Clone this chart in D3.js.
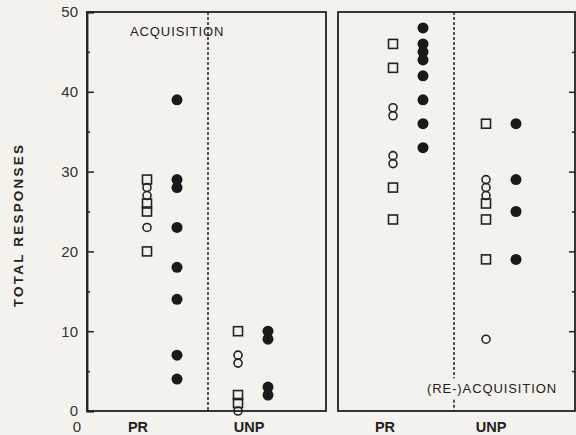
<!DOCTYPE html>
<html>
<head>
<meta charset="utf-8">
<script src="https://cdn.jsdelivr.net/npm/d3@7"></script>
<style>
  body { margin: 0; background: #f4f2ed; }
  svg { display: block; font-family: "Liberation Sans", Arial, sans-serif; }
</style>
</head>
<body>
<svg width="576" height="435"></svg>
<script>
// values (total responses per subject)
const groups = ["PR", "UNP"];
const yTicks = [0, 10, 20, 30, 40, 50];
const yMinorTicks = [5, 15, 25, 35, 45];

// acquisition panel
const acqPrSquares = [29, 26, 25, 20];
const acqPrCircles = [28, 27, 23];
const acqPrFilled = [39, 29, 28, 23, 18, 14, 7, 4];
const acqUnpSquares = [10, 2, 1];
const acqUnpCircles = [7, 6, 0];
const acqUnpFilled = [10, 9, 3, 2];

// (re-)acquisition panel
const reaPrSquares = [46, 43, 28, 24];
const reaPrCircles = [38, 37, 32, 31];
const reaPrFilled = [48, 46, 45, 44, 42, 39, 36, 33];
const reaUnpSquares = [36, 26, 24, 19];
const reaUnpCircles = [29, 28, 27, 9];
const reaUnpFilled = [36, 29, 25, 19];

const ink = "#222";
const svg = d3.select("svg");

const y = d3.scaleLinear().domain([0, 50]).range([411, 12]);

const panels = [
  { x0: 87, x1: 326, dash: 208, centers: [162, 253], labels: [138, 249],
    title: "ACQUISITION", titleX: 130, titleY: 36, anchor: "start",
    sets: { PR: [acqPrSquares, acqPrCircles, acqPrFilled], UNP: [acqUnpSquares, acqUnpCircles, acqUnpFilled] } },
  { x0: 338, x1: 575, dash: 454, centers: [408, 501], labels: [385, 491],
    title: "(RE-)ACQUISITION", titleX: 557, titleY: 393, anchor: "end",
    sets: { PR: [reaPrSquares, reaPrCircles, reaPrFilled], UNP: [reaUnpSquares, reaUnpCircles, reaUnpFilled] } }
];

panels.forEach((p, i) => {
  const g = svg.append("g");

  // frame
  g.append("rect")
    .attr("x", p.x0).attr("y", y(50))
    .attr("width", p.x1 - p.x0).attr("height", y(0) - y(50))
    .attr("fill", "none").attr("stroke", ink).attr("stroke-width", 1.8);

  // dotted divider, broken under the bottom label on the right panel
  const dashSegs = i === 0 ? [[50, 0]] : [[50, 4.1], [1.4, 0]];
  dashSegs.forEach(s => {
    g.append("line")
      .attr("x1", p.dash).attr("x2", p.dash)
      .attr("y1", y(s[0])).attr("y2", y(s[1]))
      .attr("stroke", ink).attr("stroke-width", 1.5)
      .attr("stroke-dasharray", "3,2");
  });

  const x = d3.scaleOrdinal().domain(groups).range(p.centers);
  const off = 15;

  groups.forEach(k => {
    const [sq, ci, fi] = p.sets[k];
    g.selectAll(null).data(sq).enter().append("rect")
      .attr("x", d => x(k) - off - 4.5).attr("y", d => y(d) - 4.5)
      .attr("width", 9).attr("height", 9)
      .attr("fill", "none").attr("stroke", ink).attr("stroke-width", 1.6);
    g.selectAll(null).data(ci).enter().append("circle")
      .attr("cx", x(k) - off).attr("cy", d => y(d)).attr("r", 4)
      .attr("fill", "none").attr("stroke", ink).attr("stroke-width", 1.6);
    g.selectAll(null).data(fi).enter().append("circle")
      .attr("cx", x(k) + off).attr("cy", d => y(d)).attr("r", 5.5)
      .attr("fill", "#1a1a1a");
  });

  // category labels under the panel
  groups.forEach((k, j) => {
    svg.append("text")
      .attr("x", p.labels[j]).attr("y", 432)
      .attr("text-anchor", "middle")
      .attr("font-size", 14.5).attr("font-weight", "bold")
      .attr("fill", ink).text(k);
  });

  svg.append("text")
    .attr("x", p.titleX).attr("y", p.titleY)
    .attr("text-anchor", p.anchor)
    .attr("font-size", 13).attr("letter-spacing", 0.9)
    .attr("fill", ink).text(p.title);
});

// left axis, ticks point inward
const axL = svg.append("g").attr("transform", "translate(87,0)")
  .call(d3.axisLeft(y).tickValues(yTicks).tickSize(-7).tickPadding(9));
axL.select(".domain").attr("stroke", ink).attr("stroke-width", 1.8);
axL.selectAll(".tick line").attr("stroke", ink).attr("stroke-width", 1.5);
axL.selectAll("text").attr("font-size", 15).attr("fill", "#333")
  .attr("font-family", "'Liberation Sans', Arial, sans-serif");

const axLm = svg.append("g").attr("transform", "translate(87,0)")
  .call(d3.axisLeft(y).tickValues(yMinorTicks).tickSize(-3).tickFormat(""));
axLm.select(".domain").remove();
axLm.selectAll(".tick line").attr("stroke", ink).attr("stroke-width", 1.5);

// right edge of right panel, ticks point inward, no labels
const axR = svg.append("g").attr("transform", "translate(575,0)")
  .call(d3.axisRight(y).tickValues(yTicks.slice(1, -1)).tickSize(-6).tickFormat(""));
axR.select(".domain").remove();
axR.selectAll(".tick line").attr("stroke", ink).attr("stroke-width", 1.5);

const axRm = svg.append("g").attr("transform", "translate(575,0)")
  .call(d3.axisRight(y).tickValues(yMinorTicks).tickSize(-3).tickFormat(""));
axRm.select(".domain").remove();
axRm.selectAll(".tick line").attr("stroke", ink).attr("stroke-width", 1.5);

// stray origin label below the axis
svg.append("text")
  .attr("x", 77).attr("y", 432).attr("text-anchor", "middle")
  .attr("font-size", 15).attr("fill", "#333").text("0");

// y title
svg.append("text")
  .attr("transform", "translate(23,225) rotate(-90)")
  .attr("text-anchor", "middle")
  .attr("font-size", 13.5).attr("font-weight", "bold")
  .attr("letter-spacing", 2.2)
  .attr("fill", ink).text("TOTAL RESPONSES");
</script>
</body>
</html>
